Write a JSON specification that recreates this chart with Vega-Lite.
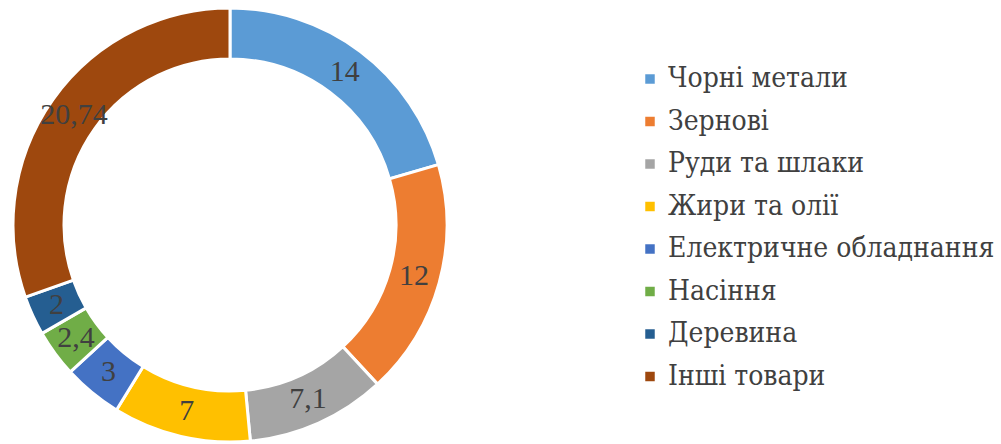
{
  "$schema": "https://vega.github.io/schema/vega-lite/v6.json",
  "width": 460,
  "height": 450,
  "padding": {"left": 0, "top": 0, "right": 541, "bottom": 0},
  "autosize": {"type": "none"},
  "background": "white",
  "config": {
    "view": {"stroke": null}
  },
  "data": {"values": [
    {"i": 1, "name": "Чорні метали", "value": 14, "label": "14"},
    {"i": 2, "name": "Зернові", "value": 12, "label": "12"},
    {"i": 3, "name": "Руди та шлаки", "value": 7.1, "label": "7,1"},
    {"i": 4, "name": "Жири та олії", "value": 7, "label": "7"},
    {"i": 5, "name": "Електричне обладнання", "value": 3, "label": "3"},
    {"i": 6, "name": "Насіння", "value": 2.4, "label": "2,4"},
    {"i": 7, "name": "Деревина", "value": 2, "label": "2"},
    {"i": 8, "name": "Інші товари", "value": 20.74, "label": "20,74"}
  ]},
  "encoding": {
    "theta": {"field": "value", "type": "quantitative", "stack": true},
    "order": {"field": "i", "type": "quantitative"}
  },
  "layer": [
    {
      "mark": {"type": "arc", "outerRadius": 217, "innerRadius": 166, "stroke": "white", "strokeWidth": 3},
      "encoding": {
        "color": {
          "field": "name", "type": "nominal",
          "sort": ["Чорні метали", "Зернові", "Руди та шлаки", "Жири та олії", "Електричне обладнання", "Насіння", "Деревина", "Інші товари"],
          "scale": {
            "domain": ["Чорні метали", "Зернові", "Руди та шлаки", "Жири та олії", "Електричне обладнання", "Насіння", "Деревина", "Інші товари"],
            "range": ["#5B9BD5", "#ED7D31", "#A5A5A5", "#FFC000", "#4472C4", "#70AD47", "#255E91", "#9E480E"]
          },
          "legend": {
            "title": null,
            "orient": "none",
            "legendX": 636,
            "legendY": 65,
            "symbolType": "square",
            "symbolSize": 90,
            "symbolStrokeWidth": 0,
            "labelFont": "'DejaVu Serif Condensed', 'DejaVu Serif', serif",
            "labelFontSize": 28,
            "labelColor": "#404040",
            "labelLimit": 500,
            "labelOffset": 4,
            "rowPadding": 14.5
          }
        }
      }
    },
    {
      "mark": {"type": "text", "radius": 191, "font": "Liberation Serif", "fontSize": 30, "color": "#404040"},
      "encoding": {"text": {"field": "label", "type": "nominal"}}
    }
  ]
}
